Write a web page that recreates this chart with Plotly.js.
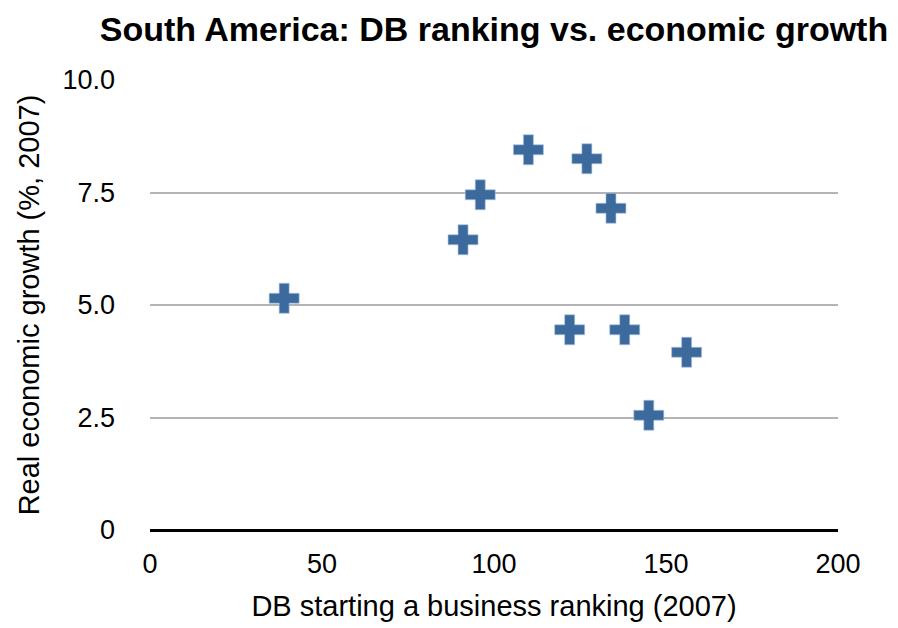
<!DOCTYPE html>
<html>
<head>
<meta charset="utf-8">
<script src="https://cdn.plot.ly/plotly-3.0.1.min.js"></script>
<style>
  html, body { margin: 0; padding: 0; background: #ffffff; }
  #chart { width: 898px; height: 628px; }
</style>
</head>
<body>
<div id="chart"></div>
<script>
// Doing Business "starting a business" rank vs. real GDP growth, South American countries, 2007
const dbRanking = [39, 91, 96, 110, 127, 134, 122, 138, 145, 156];
const realGrowth = [5.15, 6.45, 7.45, 8.45, 8.25, 7.15, 4.45, 4.45, 2.55, 3.95];

const xTickVals = [0, 50, 100, 150, 200];
const xTickText = ['0', '50', '100', '150', '200'];
const yTickVals = [0, 2.5, 5, 7.5, 10];
const yTickText = ['0', '2.5', '5.0', '7.5', '10.0'];

const FONT = 'Liberation Sans, Arial, Helvetica, sans-serif';

const trace = {
  type: 'scatter',
  mode: 'markers',
  x: dbRanking,
  y: realGrowth,
  marker: {
    symbol: 'cross',
    size: 25,
    color: '#3c6a9d',
    line: { color: 'rgba(170,195,225,0.8)', width: 0.8 }
  },
  hoverinfo: 'x+y'
};

const layout = {
  width: 898,
  height: 628,
  margin: { l: 150, r: 60, t: 80, b: 98 },
  paper_bgcolor: '#ffffff',
  plot_bgcolor: '#ffffff',
  showlegend: false,
  font: { family: FONT, color: '#000000', size: 27 },
  title: {
    text: '<b>South America: DB ranking vs. economic growth</b>',
    font: { family: FONT, size: 34, color: '#000000' },
    x: 0.5,
    xref: 'paper',
    xanchor: 'center',
    y: 0.953,
    yref: 'container',
    yanchor: 'middle'
  },
  xaxis: {
    range: [0, 200],
    tickvals: xTickVals,
    ticktext: xTickText,
    showgrid: false,
    zeroline: false,
    showline: false,
    ticks: '',
    automargin: false,
    ticklabelstandoff: 15,
    tickfont: { family: FONT, size: 27, color: '#000000' },
    title: {
      text: 'DB starting a business ranking (2007)',
      font: { family: FONT, size: 29, color: '#000000' },
      standoff: 17
    },
    fixedrange: true
  },
  yaxis: {
    range: [0, 10],
    tickvals: yTickVals,
    ticktext: yTickText,
    showgrid: true,
    gridcolor: '#b4b4b4',
    gridwidth: 2,
    zeroline: true,
    zerolinecolor: '#000000',
    zerolinewidth: 3,
    showline: false,
    ticks: '',
    automargin: false,
    ticklabelstandoff: 34,
    tickfont: { family: FONT, size: 27, color: '#000000' },
    title: {
      text: 'Real economic growth (%, 2007)',
      font: { family: FONT, size: 29, color: '#000000' },
      standoff: 14
    },
    fixedrange: true
  }
};

Plotly.newPlot('chart', [trace], layout, { displayModeBar: false, staticPlot: true });
</script>
</body>
</html>
